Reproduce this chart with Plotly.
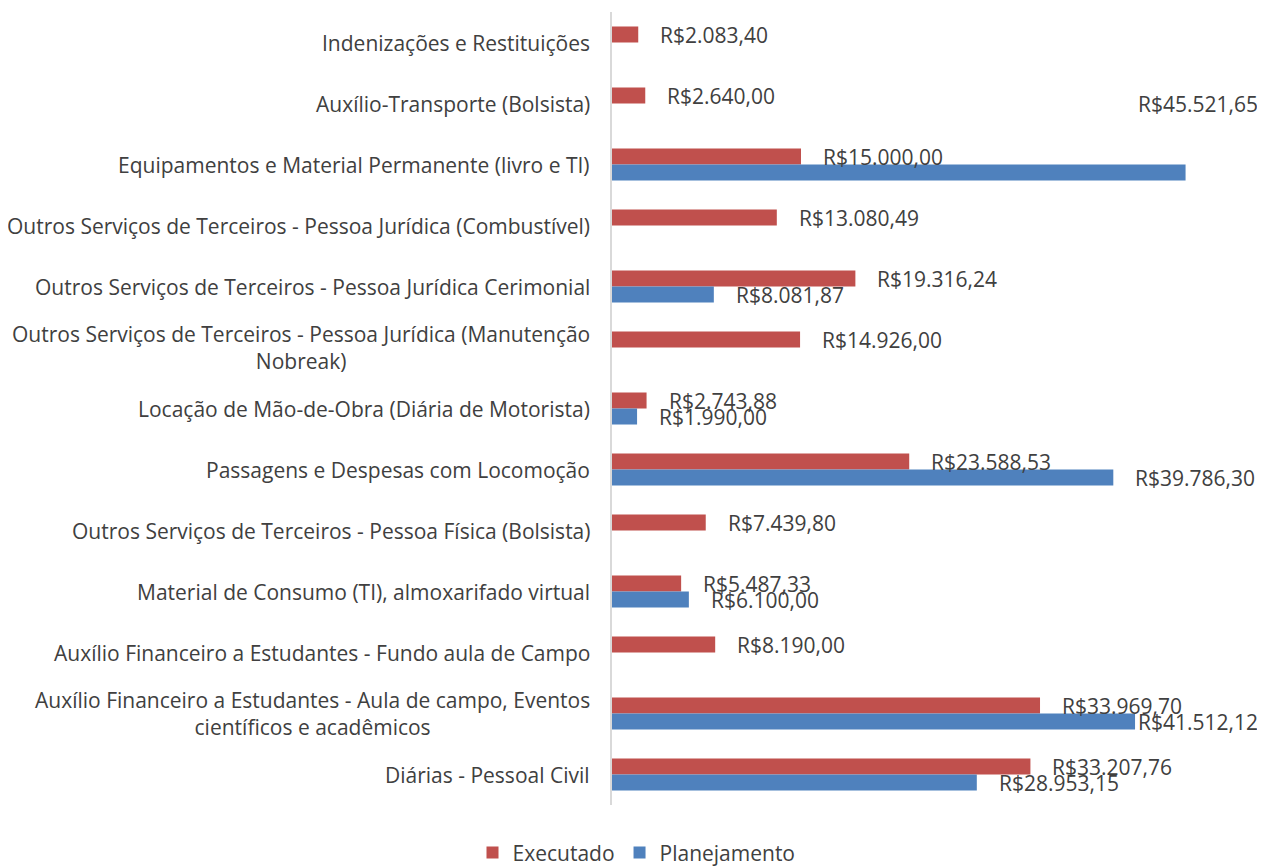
import plotly.graph_objects as go

categories = [
    "Indenizações e Restituições",
    "Auxílio-Transporte (Bolsista)",
    "Equipamentos e Material Permanente (livro e TI)",
    "Outros Serviços de Terceiros - Pessoa Jurídica (Combustível)",
    "Outros Serviços de Terceiros - Pessoa Jurídica Cerimonial",
    "Outros Serviços de Terceiros - Pessoa Jurídica (Manutenção<br>Nobreak)",
    "Locação de Mão-de-Obra (Diária de Motorista)",
    "Passagens e Despesas com Locomoção",
    "Outros Serviços de Terceiros - Pessoa Física (Bolsista)",
    "Material de Consumo (TI), almoxarifado virtual",
    "Auxílio Financeiro a Estudantes - Fundo aula de Campo",
    "Auxílio Financeiro a Estudantes - Aula de campo, Eventos<br>científicos e acadêmicos",
    "Diárias - Pessoal Civil",
]
executado = [2083.40, 2640.00, 15000.00, 13080.49, 19316.24, 14926.00, 2743.88,
             23588.53, 7439.80, 5487.33, 8190.00, 33969.70, 33207.76]
planejamento = [None, None, 45521.65, None, 8081.87, None, 1990.00,
                39786.30, None, 6100.00, None, 41512.12, 28953.15]

RED = "#C0504D"
BLUE = "#4F81BD"
TXT = "#404040"
FONT = "Open Sans"
FS = 21

def brl(v):
    s = f"{v:,.2f}".replace(",", "X").replace(".", ",").replace("X", ".")
    return "R$" + s

ids = list(range(len(categories)))

fig = go.Figure()
fig.add_trace(go.Bar(y=ids, x=executado, orientation="h", name="Executado",
                     marker=dict(color=RED, line=dict(width=0))))
fig.add_trace(go.Bar(y=ids, x=planejamento, orientation="h", name="Planejamento",
                     marker=dict(color=BLUE, line=dict(width=0))))

ann = []
# category labels
for i, c in enumerate(categories):
    ann.append(dict(x=0, xref="paper", y=i, yref="y", text=c, showarrow=False,
                    xanchor="right", yanchor="middle", align="center", xshift=-20,
                    font=dict(family=FONT, size=FS, color=TXT)))
# data labels
for i, v in enumerate(executado):
    ann.append(dict(x=v, y=i, text=brl(v), showarrow=False, xanchor="left",
                    yanchor="middle", xshift=20, yshift=8,
                    font=dict(family=FONT, size=FS, color=TXT)))
for i, v in enumerate(planejamento):
    if v is None:
        continue
    d = dict(x=v, y=i, text=brl(v), showarrow=False, xanchor="left",
             yanchor="middle", xshift=20, yshift=-8,
             font=dict(family=FONT, size=FS, color=TXT))
    if v > 45000:
        d.update(x=1, xref="paper", xanchor="right", xshift=18, yshift=61)
    elif v > 41000:
        d.update(x=1, xref="paper", xanchor="right", xshift=18)
    ann.append(d)

fig.update_layout(
    width=1257, height=860,
    margin=dict(l=604, r=23, t=4, b=63),
    paper_bgcolor="white", plot_bgcolor="white",
    barmode="group", bargap=0.475, bargroupgap=0,
    font=dict(family=FONT, size=FS, color=TXT),
    showlegend=True,
    legend=dict(orientation="h", x=0.5, xref="container", xanchor="center",
                y=0.0175, yref="container", yanchor="middle",
                font=dict(family=FONT, size=FS, color=TXT), itemwidth=30,
                traceorder="normal"),
    annotations=ann,
)
fig.update_xaxes(range=[0, 50000], showticklabels=False, showgrid=False,
                 zeroline=False, showline=False)
fig.update_yaxes(autorange=False, range=[len(categories) - 0.5, -0.5],
                 showticklabels=False, showgrid=False, zeroline=False,
                 showline=True, linecolor="#D9D9D9", linewidth=1.5,
                 tickmode="array", tickvals=ids)

fig.write_html("out.html")
